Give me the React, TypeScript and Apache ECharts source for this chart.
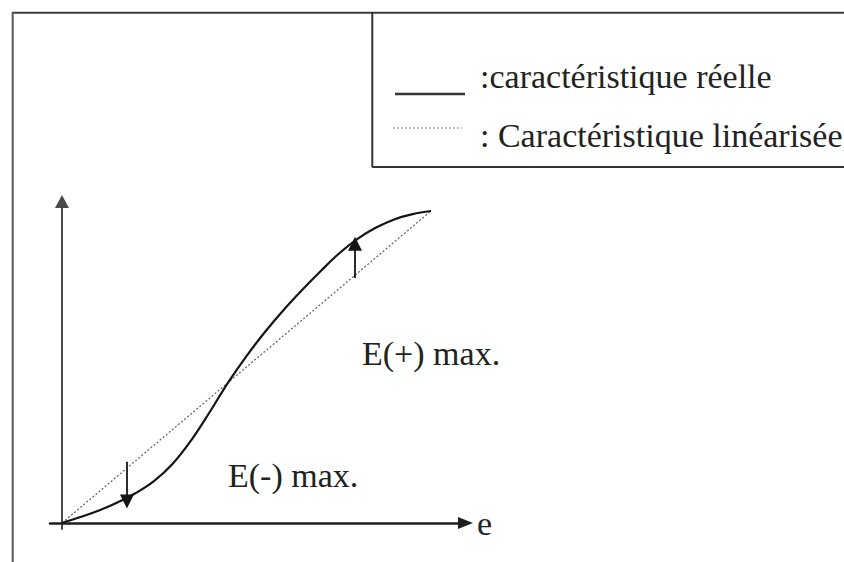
import React, { useEffect, useRef } from "react";
import * as echarts from "echarts";

// Data (abstract units: e from 0 to 100, output from 0 to 100)
const realE = [0, 5, 10, 15, 20, 25, 30, 35, 40, 45, 50, 55, 60, 65, 70, 75, 80, 85, 90, 95, 100];
const realS = [0, 1.9, 4.0, 6.6, 9.6, 13.5, 19.0, 26.5, 35.5, 45.0, 53.5, 61.2, 68.2, 74.6, 80.6, 86.3, 91.0, 94.6, 97.3, 99.0, 100];
const linE = [0, 100];
const linS = [0, 100];
// Error arrows: [e, start, end]
const errMinus = [17.6, 19.6, 6.9];
const errPlus = [79.4, 78.5, 89.5];

const legendLabels = [":caractéristique réelle", ": Caractéristique linéarisée"];
const errLabels = ["E(+) max.", "E(-) max."];
const axisName = "e";

const SERIF = "'Liberation Serif', 'Times New Roman', serif";

export default function App() {
  const ref = useRef<HTMLDivElement>(null);
  useEffect(() => {
    document.body.style.margin = "0";
    if (!ref.current) return;
    const chart = echarts.init(ref.current, null, { renderer: "svg" });
    const option: any = {
      animation: false,
      backgroundColor: "#ffffff",
      grid: { left: 50, right: 378.5, top: 201.5, bottom: 33, containLabel: false },
      xAxis: {
        type: "value",
        min: -3.25,
        max: 109.35,
        axisLine: {
          onZero: true,
          symbol: ["none", "triangle"],
          symbolSize: [12, 15],
          lineStyle: { color: "#1e1e1e", width: 2.5 },
        },
        axisTick: { show: false },
        axisLabel: { show: false },
        splitLine: { show: false },
        name: axisName,
        nameLocation: "end",
        nameGap: 11.5,
        nameTextStyle: {
          fontFamily: SERIF,
          fontSize: 34,
          color: "#222",
          align: "left",
          verticalAlign: "middle",
          padding: [17, 0, 0, 0],
        },
      },
      yAxis: {
        type: "value",
        min: -1.92,
        max: 103.04,
        axisLine: {
          onZero: true,
          symbol: ["none", "triangle"],
          symbolSize: [14, 13],
          lineStyle: { color: "#4a4a4a", width: 2 },
        },
        axisTick: { show: false },
        axisLabel: { show: false },
        splitLine: { show: false },
      },
      series: [
        {
          name: legendLabels[1],
          type: "line",
          data: linE.map((e, i) => [e, linS[i]]),
          symbol: "none",
          lineStyle: { color: "#6a6a6a", width: 1.3, type: [2, 2] },
          z: 2,
        },
        {
          name: legendLabels[0],
          type: "line",
          data: realE.map((e, i) => [e, realS[i]]),
          symbol: "none",
          smooth: 0.4,
          lineStyle: { color: "#151515", width: 2.2 },
          z: 3,
        },
        {
          type: "lines",
          coordinateSystem: "cartesian2d",
          symbol: ["none", "triangle"],
          symbolSize: [0, 14],
          lineStyle: { color: "#151515", width: 1.8, opacity: 1 },
          data: [
            { coords: [[errMinus[0], errMinus[1]], [errMinus[0], errMinus[2]]] },
            { coords: [[errPlus[0], errPlus[1]], [errPlus[0], errPlus[2]]] },
          ],
          z: 4,
        },
      ],
      graphic: [
        // outer frame
        { type: "line", shape: { x1: 12, y1: 12.7, x2: 844, y2: 12.7 }, style: { stroke: "#3c3c3c", lineWidth: 2 } },
        { type: "line", shape: { x1: 12.7, y1: 12, x2: 12.7, y2: 562 }, style: { stroke: "#555", lineWidth: 2 } },
        // legend box
        { type: "line", shape: { x1: 372.3, y1: 12, x2: 372.3, y2: 167 }, style: { stroke: "#333", lineWidth: 2 } },
        { type: "line", shape: { x1: 372, y1: 167, x2: 844, y2: 167 }, style: { stroke: "#333", lineWidth: 2 } },
        // legend samples
        { type: "line", shape: { x1: 395, y1: 94, x2: 465, y2: 94 }, style: { stroke: "#333", lineWidth: 2.5 } },
        { type: "line", shape: { x1: 393, y1: 128, x2: 462, y2: 128 }, style: { stroke: "#777", lineWidth: 1.2, lineDash: [2, 2] } },
        // legend texts
        { type: "text", x: 480, y: 76.5, style: { text: legendLabels[0], fontFamily: SERIF, fontSize: 34, fill: "#222", align: "left", verticalAlign: "middle" } },
        { type: "text", x: 480, y: 135.5, style: { text: legendLabels[1], fontFamily: SERIF, fontSize: 34, fill: "#222", align: "left", verticalAlign: "middle" } },
        // error labels
        { type: "text", x: 362, y: 353.5, style: { text: errLabels[0], fontFamily: SERIF, fontSize: 34, fill: "#222", align: "left", verticalAlign: "middle" } },
        { type: "text", x: 228, y: 475, style: { text: errLabels[1], fontFamily: SERIF, fontSize: 34, fill: "#222", align: "left", verticalAlign: "middle" } },
      ],
    };
    chart.setOption(option);
    return () => chart.dispose();
  }, []);
  return (
    <div
      ref={ref}
      style={{ position: "fixed", left: 0, top: 0, width: 844, height: 562, background: "#fff" }}
    />
  );
}
